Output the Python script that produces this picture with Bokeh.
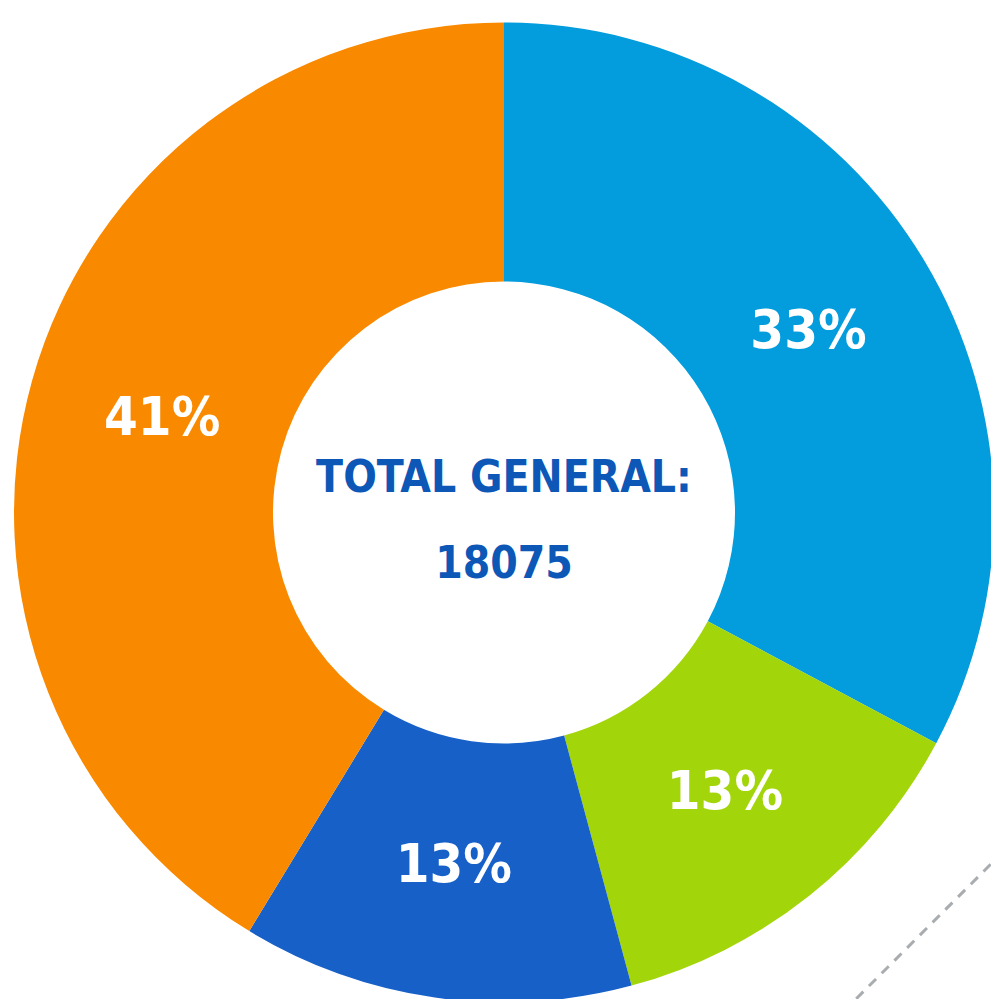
import math
from bokeh.plotting import figure
from bokeh.models import Range1d, ColumnDataSource
from bokeh.core.properties import value
from bokeh.embed import file_html
from bokeh.resources import INLINE

# ---- data ----
categories = ["Azul", "Verde", "Azul oscuro", "Naranja"]
counts = [5930, 2350, 2330, 7465]
colors = ["#039CDD", "#A3D50B", "#1660C8", "#F98A00"]
center_title = "TOTAL GENERAL:"

total = sum(counts)
pct_labels = [f"{round(100 * c / total)}%" for c in counts]

# ---- geometry ----
W, H = 991, 999
cx_px, cy_px = 503.5, 512   # pie centre inside the plot
R_OUT, R_IN = 490, 231
R_LAB = 355
FONT = "DejaVu Sans Condensed"

starts, ends, lx, ly = [], [], [], []
cum = 0.0
for c in counts:
    f0 = cum / total
    cum += c
    f1 = cum / total
    a0 = math.pi / 2 - 2 * math.pi * f0
    a1 = math.pi / 2 - 2 * math.pi * f1
    starts.append(a0)
    ends.append(a1)
    am = (a0 + a1) / 2
    lx.append(R_LAB * math.cos(am))
    ly.append(R_LAB * math.sin(am))

src = ColumnDataSource(dict(cat=categories, start=starts, end=ends, color=colors,
                            lx=lx, ly=ly, lab=pct_labels))

p = figure(width=W, height=H, output_backend="svg", toolbar_location=None,
           x_range=Range1d(-cx_px, W - cx_px), y_range=Range1d(-(H - cy_px), cy_px),
           min_border=0, outline_line_color=None, background_fill_color="white",
           border_fill_color="white")
p.axis.visible = False
p.grid.visible = False

# decorative dashed line at lower right (45 degrees, offset from the pie)
d = 1.21 * R_OUT * math.sqrt(2)
xs = [W - cx_px + 50, W - cx_px - 250]
ys = [x - d for x in xs]
p.line(xs, ys, line_color="#A9ADB0", line_width=3, line_dash="10 8")

p.annular_wedge(x=0, y=0, inner_radius=R_IN, outer_radius=R_OUT,
                start_angle="start", end_angle="end", direction="clock",
                fill_color="color", line_color=None, source=src)

p.text(x="lx", y="ly", text="lab", source=src, text_color="white",
       text_font=value(FONT), text_font_style="bold",
       text_font_size="54px", text_align="center", text_baseline="middle")

p.text(x=[0, 0], y=[36, -49], text=[center_title, str(total)], text_color="#0D57B7",
       text_font=value(FONT), text_font_style="bold",
       text_font_size="44px", text_align="center", text_baseline="middle")

open("out.html", "w").write(file_html(p, INLINE))
